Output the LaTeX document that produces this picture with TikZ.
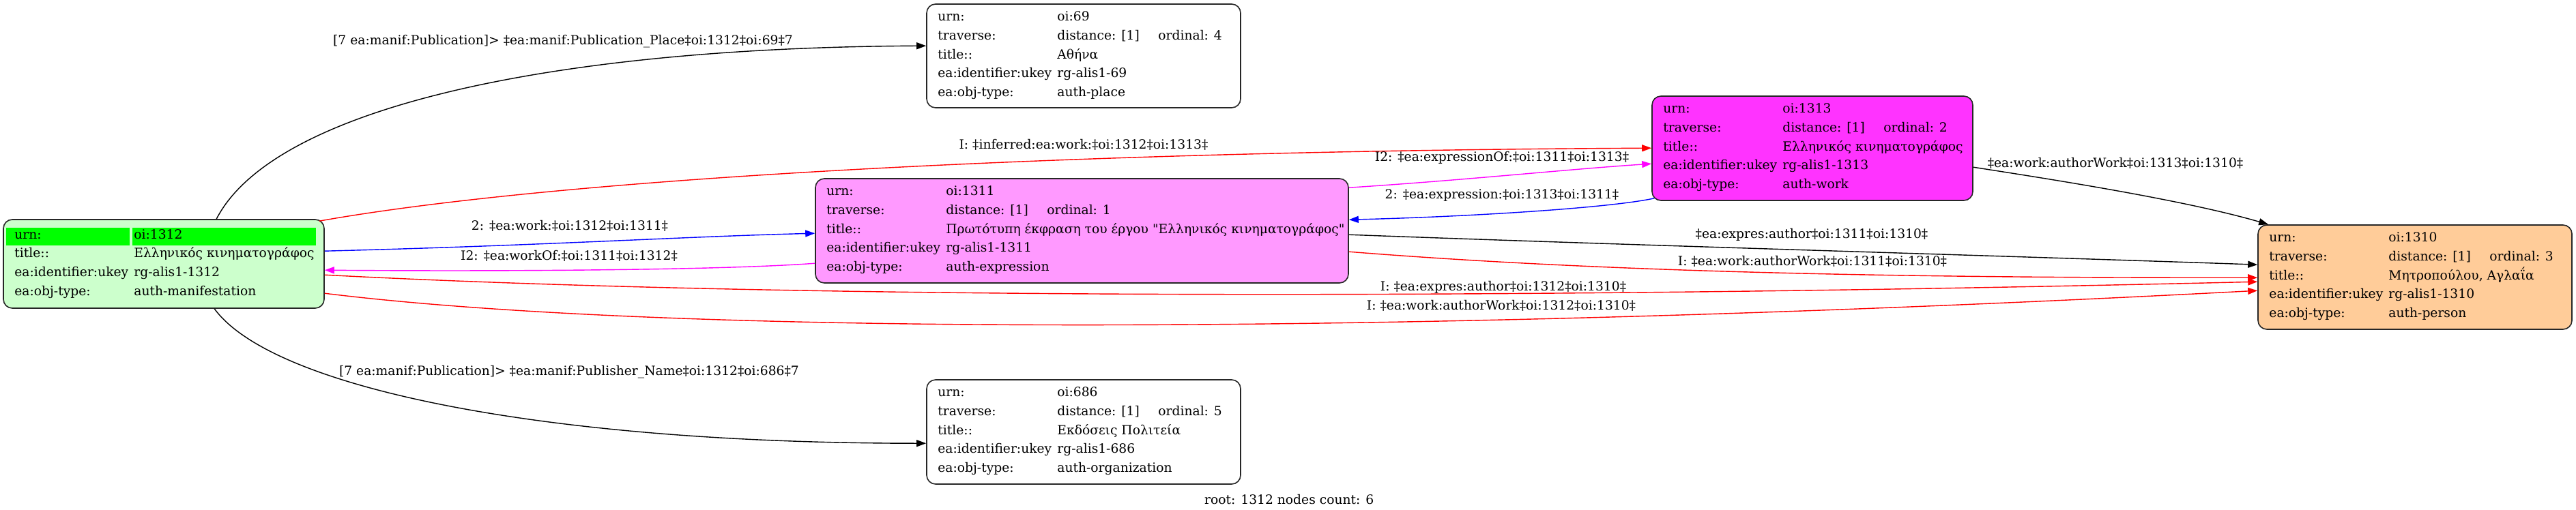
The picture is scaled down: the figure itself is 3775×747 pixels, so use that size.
\documentclass[tikz,border=0pt]{standalone}
\usepackage{fontspec}
\newfontfamily\gv{DejaVu Serif}
\usetikzlibrary{arrows.meta,calc}
\definecolor{nodegreen}{HTML}{CCFFCC}
\definecolor{hlgreen}{HTML}{00FF00}
\definecolor{pinkA}{HTML}{FF99FF}
\definecolor{pinkB}{HTML}{FF33FF}
\definecolor{orangeA}{HTML}{FFCC99}
\definecolor{edgered}{HTML}{FF0000}
\definecolor{edgeblue}{HTML}{0000FF}
\definecolor{edgemag}{HTML}{FF00FF}
\newcommand\fld[5]{\node[txt] (#1-#2) at ($(#1.north west)+(#3,#4)$) {#5};}
\begin{document}
\begin{tikzpicture}[x=1pt,y=-1pt,
  box/.style={draw=black!85, line width=1.6pt, rounded corners=13pt, inner sep=0pt},
  txt/.style={font=\gv\fontsize{18.7}{22}\selectfont, inner sep=0pt, anchor=west, text height=13pt, text depth=4pt},
  elabel/.style={font=\gv\fontsize{18.7}{22}\selectfont, inner sep=0pt, anchor=center, text height=13pt, text depth=4pt},
  conn/.style={line width=1.4pt, -{Triangle[length=14pt,width=10pt]}},
]
\useasboundingbox (0,0) rectangle (3775,747);

% boxes
\node[box, fill=nodegreen, minimum width=470pt, minimum height=130pt] (n1312) at (240,387) {};
\node[box, fill=pinkA, minimum width=781pt, minimum height=153pt] (n1311) at (1585.5,338.5) {};
\node[box, fill=white, minimum width=460pt, minimum height=152pt] (n69) at (1588,82) {};
\node[box, fill=white, minimum width=460pt, minimum height=153pt] (n686) at (1588,633.5) {};
\node[box, fill=pinkB, minimum width=470pt, minimum height=153pt] (n1313) at (2656,217.5) {};
\node[box, fill=orangeA, minimum width=460pt, minimum height=153pt] (n1310) at (3539,406.5) {};

% highlight of root row
\fill[hlgreen] (9,334) rectangle (190,360);
\fill[hlgreen] (194,334) rectangle (463,360);

% node 1312
\fld{n1312}{l1}{17}{25}{urn:}
\fld{n1312}{v1}{192}{25}{oi:1312}
\fld{n1312}{l2}{17}{52}{title::}
\fld{n1312}{v2}{192}{52}{Ελληνικός κινηματογράφος}
\fld{n1312}{l3}{17}{80}{ea:identifier:ukey}
\fld{n1312}{v3}{192}{80}{rg-alis1-1312}
\fld{n1312}{l4}{17}{108}{ea:obj-type:}
\fld{n1312}{v4}{192}{108}{auth-manifestation}

% node 1311
\fld{n1311}{l1}{17}{21}{urn:}
\fld{n1311}{v1}{192}{21}{oi:1311}
\fld{n1311}{l2}{17}{48.5}{traverse:}
\fld{n1311}{v2}{192}{48.5}{distance: [1]}
\fld{n1311}{o2}{340}{48.5}{ordinal: 1}
\fld{n1311}{l3}{17}{76.5}{title::}
\fld{n1311}{v3}{192}{76.5}{Πρωτότυπη έκφραση του έργου "Ελληνικός κινηματογράφος"}
\fld{n1311}{l4}{17}{104}{ea:identifier:ukey}
\fld{n1311}{v4}{192}{104}{rg-alis1-1311}
\fld{n1311}{l5}{17}{131.5}{ea:obj-type:}
\fld{n1311}{v5}{192}{131.5}{auth-expression}

% node 69
\fld{n69}{l1}{17}{21}{urn:}
\fld{n69}{v1}{192}{21}{oi:69}
\fld{n69}{l2}{17}{48.5}{traverse:}
\fld{n69}{v2}{192}{48.5}{distance: [1]}
\fld{n69}{o2}{340}{48.5}{ordinal: 4}
\fld{n69}{l3}{17}{76.5}{title::}
\fld{n69}{v3}{192}{76.5}{Αθήνα}
\fld{n69}{l4}{17}{104}{ea:identifier:ukey}
\fld{n69}{v4}{192}{104}{rg-alis1-69}
\fld{n69}{l5}{17}{131.5}{ea:obj-type:}
\fld{n69}{v5}{192}{131.5}{auth-place}

% node 686
\fld{n686}{l1}{17}{21}{urn:}
\fld{n686}{v1}{192}{21}{oi:686}
\fld{n686}{l2}{17}{48.5}{traverse:}
\fld{n686}{v2}{192}{48.5}{distance: [1]}
\fld{n686}{o2}{340}{48.5}{ordinal: 5}
\fld{n686}{l3}{17}{76.5}{title::}
\fld{n686}{v3}{192}{76.5}{Εκδόσεις Πολιτεία}
\fld{n686}{l4}{17}{104}{ea:identifier:ukey}
\fld{n686}{v4}{192}{104}{rg-alis1-686}
\fld{n686}{l5}{17}{131.5}{ea:obj-type:}
\fld{n686}{v5}{192}{131.5}{auth-organization}

% node 1313
\fld{n1313}{l1}{17}{21}{urn:}
\fld{n1313}{v1}{192}{21}{oi:1313}
\fld{n1313}{l2}{17}{48.5}{traverse:}
\fld{n1313}{v2}{192}{48.5}{distance: [1]}
\fld{n1313}{o2}{340}{48.5}{ordinal: 2}
\fld{n1313}{l3}{17}{76.5}{title::}
\fld{n1313}{v3}{192}{76.5}{Ελληνικός κινηματογράφος}
\fld{n1313}{l4}{17}{104}{ea:identifier:ukey}
\fld{n1313}{v4}{192}{104}{rg-alis1-1313}
\fld{n1313}{l5}{17}{131.5}{ea:obj-type:}
\fld{n1313}{v5}{192}{131.5}{auth-work}

% node 1310
\fld{n1310}{l1}{17}{21}{urn:}
\fld{n1310}{v1}{192}{21}{oi:1310}
\fld{n1310}{l2}{17}{48.5}{traverse:}
\fld{n1310}{v2}{192}{48.5}{distance: [1]}
\fld{n1310}{o2}{340}{48.5}{ordinal: 3}
\fld{n1310}{l3}{17}{76.5}{title::}
\fld{n1310}{v3}{192}{76.5}{Μητροπούλου, Αγλαΐα}
\fld{n1310}{l4}{17}{104}{ea:identifier:ukey}
\fld{n1310}{v4}{192}{104}{rg-alis1-1310}
\fld{n1310}{l5}{17}{131.5}{ea:obj-type:}
\fld{n1310}{v5}{192}{131.5}{auth-person}

% connectors
\draw[conn] ($(n1312.north west)+(313,0)$) .. controls (400,160) and (800,70) .. ($(n69.north west)+(0,62)$);
\draw[conn, edgered] ($(n1312.north east)+(-8,3)$) .. controls (800,265) and (1500,222) .. ($(n1313.north west)+(0,77)$);
\draw[conn, edgeblue] ($(n1312.north east)+(0,47)$) .. controls (800,360) and (1000,347) .. ($(n1311.north west)+(0,81)$);
\draw[conn, edgemag] ($(n1311.north west)+(0,125)$) .. controls (1050,397) and (700,398) .. ($(n1312.north east)+(0,75)$);
\draw[conn, edgemag] ($(n1311.north east)+(0,14)$) .. controls (2150,264) and (2300,248) .. ($(n1313.north west)+(0,100)$);
\draw[conn, edgeblue] ($(n1313.south west)+(4,-4)$) .. controls (2360,305) and (2150,318) .. ($(n1311.north east)+(0,61)$);
\draw[conn] ($(n1313.north east)+(0,105)$) .. controls (3000,262) and (3200,293) .. ($(n1310.north west)+(16,0)$);
\draw[conn] ($(n1311.north east)+(0,83)$) .. controls (2400,360) and (2900,374) .. ($(n1310.north west)+(0,59)$);
\draw[conn, edgered] ($(n1311.north east)+(0,108)$) .. controls (2300,395) and (2700,408) .. ($(n1310.north west)+(0,78)$);
\draw[conn, edgered] ($(n1312.north east)+(0,82)$) .. controls (1100,436) and (2100,442) .. ($(n1310.north west)+(0,84)$);
\draw[conn, edgered] ($(n1312.north east)+(0,109)$) .. controls (1000,495) and (2100,490) .. ($(n1310.north west)+(0,97)$);
\draw[conn] ($(n1312.south west)+(310,0)$) .. controls (400,570) and (800,650) .. ($(n686.north west)+(0,94)$);

% connector labels
\node[elabel] (L1) at (825,61) {[7 ea:manif:Publication]> ‡ea:manif:Publication\_Place‡oi:1312‡oi:69‡7};
\node[elabel] (L2) at (1588,214) {I: ‡inferred:ea:work:‡oi:1312‡oi:1313‡};
\node[elabel] (L3) at (835,333) {2: ‡ea:work:‡oi:1312‡oi:1311‡};
\node[elabel] (L4) at (834,377) {I2: ‡ea:workOf:‡oi:1311‡oi:1312‡};
\node[elabel] (L5) at (2201,232) {I2: ‡ea:expressionOf:‡oi:1311‡oi:1313‡};
\node[elabel] (L6) at (2201,287) {2: ‡ea:expression:‡oi:1313‡oi:1311‡};
\node[elabel] (L7) at (3100,241) {‡ea:work:authorWork‡oi:1313‡oi:1310‡};
\node[elabel] (L8) at (2655,345) {‡ea:expres:author‡oi:1311‡oi:1310‡};
\node[elabel] (L9) at (2656,385) {I: ‡ea:work:authorWork‡oi:1311‡oi:1310‡};
\node[elabel] (L10) at (2203,422) {I: ‡ea:expres:author‡oi:1312‡oi:1310‡};
\node[elabel] (L11) at (2200,450) {I: ‡ea:work:authorWork‡oi:1312‡oi:1310‡};
\node[elabel] (L12) at (834,546) {[7 ea:manif:Publication]> ‡ea:manif:Publisher\_Name‡oi:1312‡oi:686‡7};

\node[txt] (footer) at (1765,735) {root: 1312 nodes count: 6};
\end{tikzpicture}
\end{document}
